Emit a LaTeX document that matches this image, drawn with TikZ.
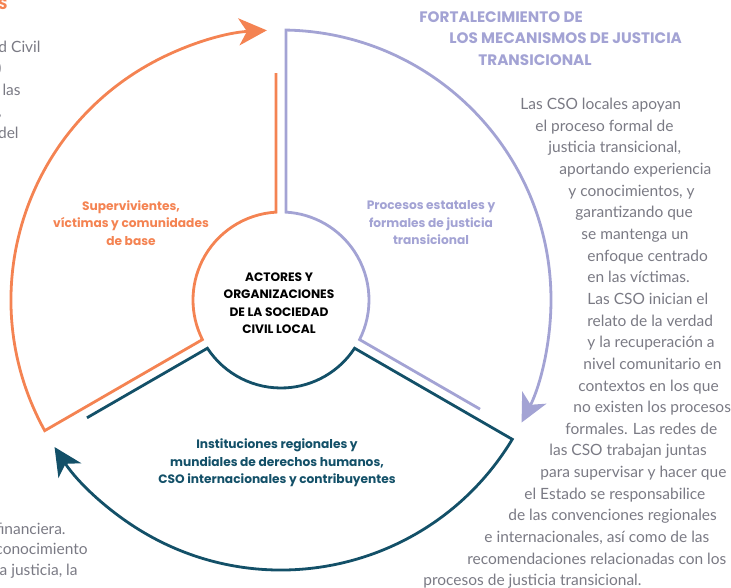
\documentclass[tikz,border=0pt]{standalone}
\usepackage{fontspec}
\setmainfont{Lato}
\newfontfamily\headfont{Poppins}
\usetikzlibrary{arrows.meta}
\definecolor{orangeC}{RGB}{244,131,82}
\definecolor{lavC}{RGB}{163,163,212}
\definecolor{tealC}{RGB}{19,80,104}
\definecolor{txtgray}{RGB}{122,122,132}
\tikzset{
  bodytxt/.style={font=\fontsize{15.5}{18}\selectfont, text=txtgray, inner sep=0pt, execute at begin node=\strut},
  headtxt/.style={font=\headfont\bfseries\fontsize{15.2}{18}\selectfont, inner sep=0pt, execute at begin node=\strut},
  sectortxt/.style={font=\headfont\bfseries\fontsize{12.2}{17.5}\selectfont, align=center, inner sep=0pt}
}

\begin{document}
\begin{tikzpicture}[x=1pt,y=1pt,line width=2.8pt]
      \useasboundingbox (-281,-288) rectangle (450,300);

      \foreach \rot/\col in {120/orangeC, 0/lavC, -120/tealC}{
        \begin{scope}[rotate=\rot]
          \draw[\col, -{Stealth[length=28pt, width=27pt, inset=8pt]}]
            (-28.74:227) -- (-26.74:88)
            arc[start angle=-26.74, end angle=86.74, radius=88]
            -- (88.94:270)
            arc[start angle=88.94, end angle=-27, radius=270];
        \end{scope}
      }

      \node[sectortxt, text=black] (actors) at (-2,-3) {ACTORES Y\\ORGANIZACIONES\\DE LA SOCIEDAD\\CIVIL LOCAL};
      \node[sectortxt, text=orangeC] (survivors) at (-150,77) {Supervivientes,\\víctimas y comunidades\\de base};
      \node[sectortxt, text=lavC] (state) at (150,77) {Procesos estatales y\\formales de justicia\\transicional};
      \node[sectortxt, text=tealC] (intl) at (-4,-163) {Instituciones regionales y\\mundiales de derechos humanos,\\CSO internacionales y contribuyentes};

      \node[headtxt, text=orangeC, anchor=east] (h0) at (-272,294) {S};
      \node[headtxt, text=lavC, anchor=west] (h1) at (137,281) {FORTALECIMIENTO DE};
      \node[headtxt, text=lavC, anchor=west] (h2) at (167,260) {LOS MECANISMOS DE JUSTICIA};
      \node[headtxt, text=lavC, anchor=west] (h3) at (196,238) {TRANSICIONAL};

      \foreach \lx/\txt [count=\i] in {
          238/{Las CSO locales apoyan},
          253/{el proceso formal de},
          266/{justicia transicional,},
          277/{aportando experiencia},
          286/{y conocimientos, y},
          293/{garantizando que},
          299/{se mantenga un},
          305/{enfoque centrado},
          305/{en las víctimas.},
          305/{Las CSO inician el},
          305/{relato de la verdad},
          305/{y la recuperación a},
          301/{nivel comunitario en},
          296/{contextos en los que},
          291/{no existen los procesos},
          283/{formales. Las redes de},
          267/{las CSO trabajan juntas},
          258/{para supervisar y hacer que},
          242/{el Estado se responsabilice},
          226/{de las convenciones regionales},
          202/{e internacionales, así como de las},
          185/{recomendaciones relacionadas con los},
          141/{procesos de justicia transicional.}}
        \node[bodytxt, anchor=west] (b\i) at (\lx,{194-21.65*(\i-1)}) {\txt};

      \node[bodytxt, anchor=east] (l1) at (-239,251) {d Civil};
      \node[bodytxt, anchor=east] (l2) at (-278,230) {)};
      \node[bodytxt, anchor=east] (l3) at (-259,208) {las};
      \node[bodytxt, anchor=east] (l4) at (-278,187) {,};
      \node[bodytxt, anchor=east] (l5) at (-261,165) {del};
      \node[bodytxt, anchor=east] (l6) at (-214,-231) {financiera.};
      \node[bodytxt, anchor=east] (l7) at (-192,-251) {conocimiento};
      \node[bodytxt, anchor=east] (l8) at (-202,-272) {la justicia, la};

    \end{tikzpicture}
\end{document}
